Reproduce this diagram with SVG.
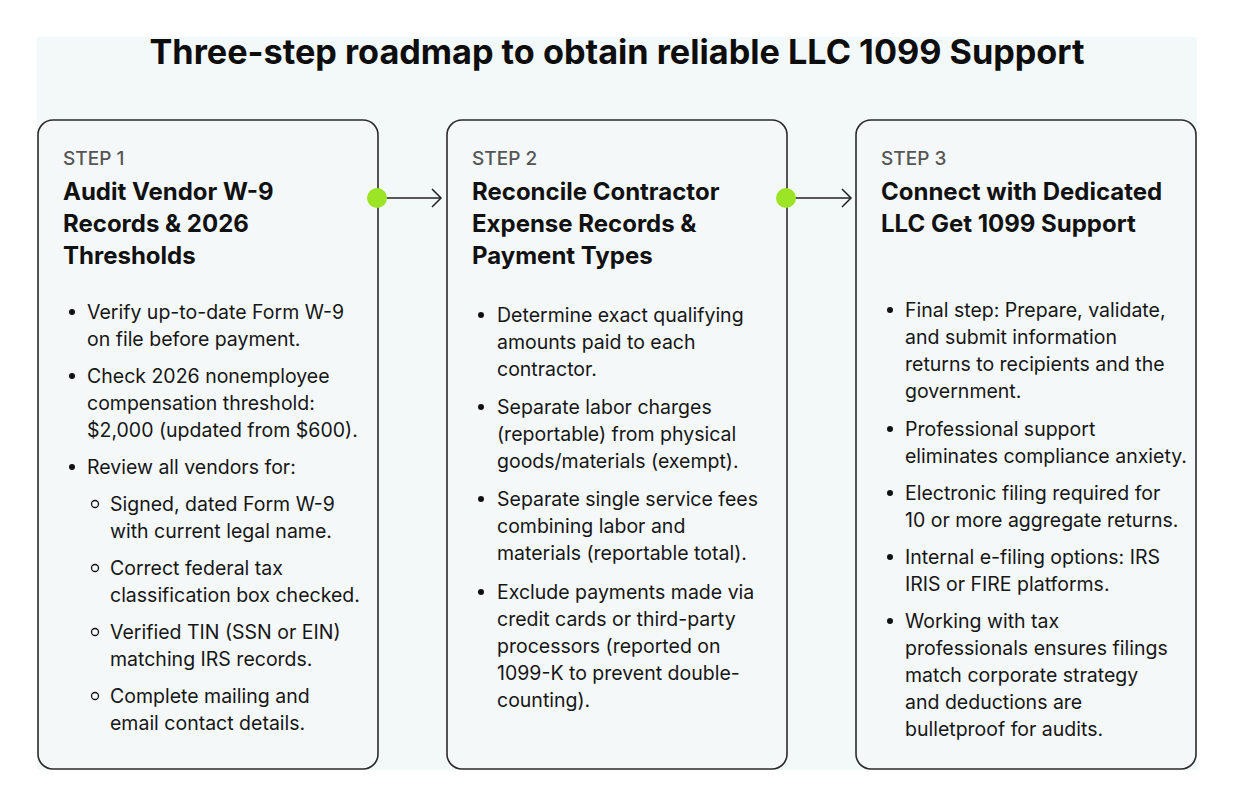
<svg xmlns="http://www.w3.org/2000/svg" width="1234" height="807" viewBox="0 0 1234 807">
<style>
.title{font-family:Inter,"Liberation Sans",sans-serif;font-weight:700;font-size:34px;fill:#0d0d0d}
.box{fill:#f4f8f9;stroke:#2b2b2b;stroke-width:1.6}
.step{font-family:Inter,"Liberation Sans",sans-serif;font-size:19px;fill:#555;font-weight:500}
.head{font-family:Inter,"Liberation Sans",sans-serif;font-size:24px;font-weight:700;fill:#111}
.body{font-family:Inter,"Liberation Sans",sans-serif;font-size:19.5px;fill:#161616}
.dot{fill:#111}
.ring{fill:none;stroke:#111;stroke-width:1.3}
.conn{stroke:#222;stroke-width:1.5;fill:none}
.gdot{fill:#9be426}
</style>
<rect x="0" y="0" width="1234" height="807" fill="#ffffff"/>
<rect x="37" y="37" width="1160" height="733" fill="#f3f8f8"/>
<text class="title" x="617" y="64" text-anchor="middle" textLength="935" lengthAdjust="spacingAndGlyphs">Three-step roadmap to obtain reliable LLC 1099 Support</text>

<g id="step1">
<rect class="box" x="38" y="120" width="340" height="649" rx="15"/>
<text class="step" x="63" y="165">STEP 1</text>
<text class="head" x="63" y="200">Audit Vendor W-9</text>
<text class="head" x="63" y="232">Records &amp; 2026</text>
<text class="head" x="63" y="264">Thresholds</text>
<circle class="dot" cx="72" cy="312" r="3"/>
<text class="body" x="87" y="319">Verify up-to-date Form W-9</text>
<text class="body" x="87" y="346">on file before payment.</text>
<circle class="dot" cx="72" cy="376" r="3"/>
<text class="body" x="87" y="383">Check 2026 nonemployee</text>
<text class="body" x="87" y="410">compensation threshold:</text>
<text class="body" x="87" y="437">$2,000 (updated from $600).</text>
<circle class="dot" cx="72" cy="467" r="3"/>
<text class="body" x="87" y="474">Review all vendors for:</text>
<circle class="ring" cx="95" cy="504" r="3.5"/>
<text class="body" x="110" y="511">Signed, dated Form W-9</text>
<text class="body" x="110" y="538">with current legal name.</text>
<circle class="ring" cx="95" cy="568" r="3.5"/>
<text class="body" x="110" y="575">Correct federal tax</text>
<text class="body" x="110" y="602">classification box checked.</text>
<circle class="ring" cx="95" cy="632" r="3.5"/>
<text class="body" x="110" y="639">Verified TIN (SSN or EIN)</text>
<text class="body" x="110" y="666">matching IRS records.</text>
<circle class="ring" cx="95" cy="696" r="3.5"/>
<text class="body" x="110" y="703">Complete mailing and</text>
<text class="body" x="110" y="730">email contact details.</text>
</g>

<g id="step2">
<rect class="box" x="447" y="120" width="340" height="649" rx="15"/>
<text class="step" x="472" y="165">STEP 2</text>
<text class="head" x="472" y="200">Reconcile Contractor</text>
<text class="head" x="472" y="232">Expense Records &amp;</text>
<text class="head" x="472" y="264">Payment Types</text>
<circle class="dot" cx="481" cy="315" r="3"/>
<text class="body" x="497" y="322">Determine exact qualifying</text>
<text class="body" x="497" y="349">amounts paid to each</text>
<text class="body" x="497" y="376">contractor.</text>
<circle class="dot" cx="481" cy="407" r="3"/>
<text class="body" x="497" y="414">Separate labor charges</text>
<text class="body" x="497" y="441">(reportable) from physical</text>
<text class="body" x="497" y="468">goods/materials (exempt).</text>
<circle class="dot" cx="481" cy="499" r="3"/>
<text class="body" x="497" y="506">Separate single service fees</text>
<text class="body" x="497" y="533">combining labor and</text>
<text class="body" x="497" y="560">materials (reportable total).</text>
<circle class="dot" cx="481" cy="592" r="3"/>
<text class="body" x="497" y="599">Exclude payments made via</text>
<text class="body" x="497" y="626">credit cards or third-party</text>
<text class="body" x="497" y="653">processors (reported on</text>
<text class="body" x="497" y="680">1099-K to prevent double-</text>
<text class="body" x="497" y="707">counting).</text>
</g>

<g id="step3">
<rect class="box" x="856" y="120" width="340" height="649" rx="15"/>
<text class="step" x="881" y="165">STEP 3</text>
<text class="head" x="881" y="200">Connect with Dedicated</text>
<text class="head" x="881" y="232">LLC Get 1099 Support</text>
<circle class="dot" cx="890" cy="310" r="3"/>
<text class="body" x="905" y="317">Final step: Prepare, validate,</text>
<text class="body" x="905" y="344">and submit information</text>
<text class="body" x="905" y="371">returns to recipients and the</text>
<text class="body" x="905" y="398">government.</text>
<circle class="dot" cx="890" cy="429" r="3"/>
<text class="body" x="905" y="436">Professional support</text>
<text class="body" x="905" y="463">eliminates compliance anxiety.</text>
<circle class="dot" cx="890" cy="493" r="3"/>
<text class="body" x="905" y="500">Electronic filing required for</text>
<text class="body" x="905" y="527">10 or more aggregate returns.</text>
<circle class="dot" cx="890" cy="557" r="3"/>
<text class="body" x="905" y="564">Internal e-filing options: IRS</text>
<text class="body" x="905" y="591">IRIS or FIRE platforms.</text>
<circle class="dot" cx="890" cy="621" r="3"/>
<text class="body" x="905" y="628">Working with tax</text>
<text class="body" x="905" y="655">professionals ensures filings</text>
<text class="body" x="905" y="682">match corporate strategy</text>
<text class="body" x="905" y="709">and deductions are</text>
<text class="body" x="905" y="736">bulletproof for audits.</text>
</g>

<g id="connectors">
<line class="conn" x1="378" y1="198" x2="441" y2="198"/>
<polyline class="conn" points="432,189 441,198 432,207"/>
<circle class="gdot" cx="377" cy="198" r="10"/>
<line class="conn" x1="787" y1="198" x2="851" y2="198"/>
<polyline class="conn" points="842,189 851,198 842,207"/>
<circle class="gdot" cx="786" cy="198" r="10"/>
</g>
</svg>
